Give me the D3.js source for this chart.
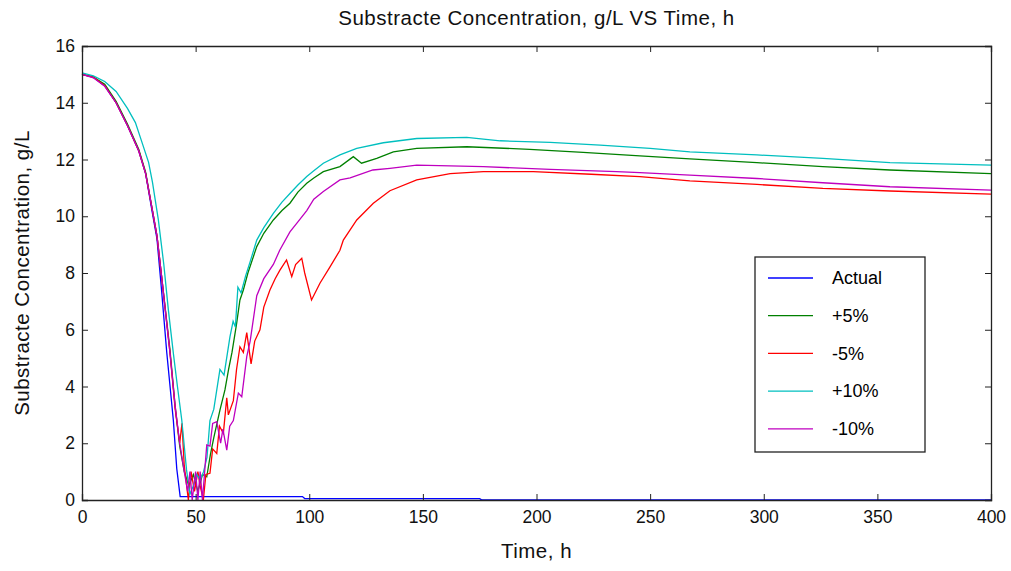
<!DOCTYPE html>
<html lang="en">
<head>
  <meta charset="UTF-8">
  <title>Substracte Concentration vs Time</title>
  <script src="https://d3js.org/d3.v7.min.js"></script>
  <style>
    body { margin: 0; background: #fff; font-family: "Liberation Sans", Arial, sans-serif; }
    .axis path, .axis line { stroke: #222; }
    .axis text { font-size: 17.5px; fill: #111; font-family: "Liberation Sans", Arial, sans-serif; }
    .series { fill: none; stroke-width: 1.3px; }
    .label { font-size: 20.5px; letter-spacing: 0.5px; fill: #111; }
  </style>
</head>
<body>
  <svg id="chart" width="1011" height="571"></svg>

  <script>
    // Time (h) and substrate concentration (g/L)
    const tActual = [0, 5, 10, 15, 20, 25, 28, 31, 33, 35, 37.3, 40.2, 41.7, 43.2, 97, 98, 175, 176, 400];
    const vActual = [15, 14.9, 14.6, 14.0, 13.2, 12.3, 11.5, 10.1, 9.2, 7.4, 5.2, 2.8, 1.1, 0.12, 0.12, 0.05, 0.05, 0, 0];

    const tPlus5 = [0, 5, 10, 15, 20, 25, 28, 31, 33, 35, 38.7, 41, 43, 45, 47, 49, 51, 53, 54.9, 56.5, 58, 60.7, 62.9, 64.5, 66, 68, 69.5, 71, 73, 76.9, 80, 84.2, 88, 91.5, 95, 98.9, 102, 106.2, 113.5, 119.4, 123, 129.7, 137, 147.3, 169.3, 197, 220.5, 245.5, 267.5, 297, 326, 355.5, 400];
    const vPlus5 = [15, 14.9, 14.65, 14.05, 13.25, 12.35, 11.55, 10.2, 9.3, 7.9, 5.3, 3.3, 1.9, 1.0, 0.5, 0.9, 0.3, 0.9, 0.82, 1.6, 2.2, 3.17, 3.88, 4.6, 5.2, 6.2, 7.05, 7.4, 8.0, 8.93, 9.4, 9.87, 10.2, 10.46, 10.85, 11.16, 11.35, 11.57, 11.75, 12.1, 11.87, 12.04, 12.27, 12.39, 12.45, 12.36, 12.25, 12.13, 12.02, 11.89, 11.75, 11.63, 11.5];

    const tMinus5 = [0, 5, 10, 15, 20, 25, 28, 31, 33, 35, 38.7, 41, 43, 44, 45, 46.8, 48, 49.5, 51, 52, 53.4, 54.5, 56.3, 57.5, 59.3, 60.5, 62.2, 63.7, 64.4, 66.6, 68, 69.5, 71, 72.5, 74.4, 76, 78.3, 80, 82.7, 85, 87.1, 90, 92.3, 94, 96.7, 98, 101, 104.7, 109, 113.5, 115, 120.9, 128.2, 135.5, 147.3, 162, 176.6, 198.6, 224, 245.5, 267.5, 297, 326, 355.5, 400];
    const vMinus5 = [15, 14.9, 14.6, 14.0, 13.2, 12.3, 11.5, 10.2, 9.3, 7.9, 5.2, 3.2, 2.0, 2.7, 1.2, 0, 1.0, 0.3, 1.0, 0.5, 0, 0.9, 0.94, 1.8, 1.64, 2.6, 2.35, 3.6, 3.0, 3.5, 4.6, 5.4, 5.2, 5.9, 4.8, 5.6, 6.0, 6.8, 7.4, 7.8, 8.1, 8.46, 7.87, 8.3, 8.52, 8.0, 7.05, 7.64, 8.2, 8.8, 9.16, 9.87, 10.46, 10.9, 11.28, 11.5, 11.57, 11.57, 11.48, 11.4, 11.25, 11.12, 10.98, 10.89, 10.78];

    const tPlus10 = [0, 5, 10, 15, 20, 23.5, 26, 29.3, 31, 33.6, 36, 38, 40.2, 42, 43.9, 46, 47.5, 49, 50.5, 52, 53.5, 55, 56.3, 58, 60.7, 62.5, 65.1, 66.5, 67.5, 68.6, 70, 72, 74, 76.9, 80, 84.2, 88, 91.5, 95, 98.9, 102, 106.2, 113.5, 120.9, 132.6, 147.3, 169.3, 184, 206, 228, 250, 267.5, 297, 326, 355.5, 400];
    const vPlus10 = [15.05, 14.95, 14.75, 14.4, 13.8, 13.3, 12.7, 11.9, 11.2, 9.87, 8.3, 6.7, 5.17, 4.0, 2.82, 1.06, 0.2, 0.5, 0.9, 0.7, 1.0, 1.5, 2.8, 3.2, 4.6, 4.4, 5.75, 6.3, 6.1, 7.5, 7.3, 7.9, 8.4, 9.16, 9.6, 10.1, 10.5, 10.8, 11.1, 11.4, 11.6, 11.87, 12.16, 12.39, 12.59, 12.74, 12.78, 12.66, 12.6, 12.51, 12.39, 12.27, 12.16, 12.04, 11.89, 11.8];

    const tMinus10 = [0, 5, 10, 15, 20, 25, 28, 31, 33, 35, 38.7, 41, 43, 45, 46.5, 47.5, 48.5, 50, 51, 52, 53, 54.9, 56.3, 57.5, 59.3, 61, 62, 63.7, 65, 66.6, 68.8, 70.3, 72.5, 74, 76.9, 80, 84.2, 87, 91.5, 95, 98.9, 102, 106.2, 113.5, 118, 128, 135.5, 147.3, 176.6, 206, 235.3, 245.5, 267.5, 297, 326, 355.5, 400];
    const vMinus10 = [15, 14.88, 14.58, 14.0, 13.2, 12.3, 11.5, 10.2, 9.3, 7.9, 5.2, 3.3, 2.0, 1.0, 0.3, 1.0, 0, 1.0, 0, 1.0, 0, 1.94, 1.9, 2.7, 2.76, 2.0, 2.5, 1.76, 2.6, 2.8, 3.77, 3.64, 5.05, 5.6, 7.2, 7.8, 8.3, 8.8, 9.45, 9.8, 10.2, 10.6, 10.87, 11.28, 11.35, 11.63, 11.69, 11.8, 11.75, 11.65, 11.57, 11.54, 11.45, 11.33, 11.18, 11.04, 10.92];

    const seriesNames = ["Actual", "+5%", "-5%", "+10%", "-10%"];
    const seriesColors = ["#0000ff", "#008000", "#ff0000", "#00bfbf", "#bf00bf"];
    const seriesTimes = [tActual, tPlus5, tMinus5, tPlus10, tMinus10];
    const seriesValues = [vActual, vPlus5, vMinus5, vPlus10, vMinus10];

    const xTicks = [0, 50, 100, 150, 200, 250, 300, 350, 400];
    const yTicks = [0, 2, 4, 6, 8, 10, 12, 14, 16];

    const svg = d3.select("#chart");
    const margin = { top: 46, right: 20, bottom: 71, left: 82 };
    const width = 1011 - margin.left - margin.right;
    const height = 571 - margin.top - margin.bottom;

    const x = d3.scaleLinear().domain([0, 400]).range([0, width]);
    const y = d3.scaleLinear().domain([0, 16]).range([height, 0]);

    const g = svg.append("g").attr("transform", `translate(${margin.left},${margin.top})`);

    // Lines
    const line = d3.line().x(d => x(d[0])).y(d => y(d[1]));
    seriesNames.forEach((name, i) => {
      const pts = seriesTimes[i].map((t, j) => [t, seriesValues[i][j]]);
      g.append("path")
        .datum(pts)
        .attr("class", "series")
        .attr("stroke", seriesColors[i])
        .attr("d", line);
    });

    // Axes with inward ticks on all four sides (box)
    const tickLen = 6;
    g.append("g").attr("class", "axis")
      .attr("transform", `translate(0,${height})`)
      .call(d3.axisBottom(x).tickValues(xTicks).tickSize(-tickLen).tickPadding(11))
      .call(a => a.selectAll("text").attr("dy", "0.71em"));
    g.append("g").attr("class", "axis")
      .call(d3.axisLeft(y).tickValues(yTicks).tickSize(-tickLen).tickPadding(7));
    g.append("g").attr("class", "axis")
      .call(d3.axisTop(x).tickValues(xTicks).tickSize(-tickLen).tickFormat(""));
    g.append("g").attr("class", "axis")
      .attr("transform", `translate(${width},0)`)
      .call(d3.axisRight(y).tickValues(yTicks).tickSize(-tickLen).tickFormat(""));
    g.selectAll(".axis path").attr("stroke-width", 1.3);

    // Title and axis labels
    svg.append("text").attr("class", "label")
      .attr("x", margin.left + width / 2).attr("y", 25)
      .attr("text-anchor", "middle")
      .text("Substracte Concentration, g/L VS Time, h");
    svg.append("text").attr("class", "label")
      .attr("x", margin.left + width / 2).attr("y", 558)
      .attr("text-anchor", "middle")
      .text("Time, h");
    svg.append("text").attr("class", "label")
      .attr("transform", `translate(29,${margin.top + height / 2}) rotate(-90)`)
      .attr("text-anchor", "middle")
      .text("Substracte Concentration, g/L");

    // Legend
    const legend = g.append("g").attr("transform", `translate(${755 - margin.left},${257 - margin.top})`);
    legend.append("rect")
      .attr("width", 170).attr("height", 195)
      .attr("fill", "#fff").attr("stroke", "#222").attr("stroke-width", 1.3);
    seriesNames.forEach((name, i) => {
      const ly = 21 + i * 37.7;
      legend.append("line")
        .attr("x1", 13).attr("x2", 58).attr("y1", ly).attr("y2", ly)
        .attr("stroke", seriesColors[i]).attr("stroke-width", 1.3);
      legend.append("text")
        .attr("x", 77).attr("y", ly).attr("dy", "0.35em")
        .style("font-size", "18px")
        .text(name);
    });
  </script>
</body>
</html>
